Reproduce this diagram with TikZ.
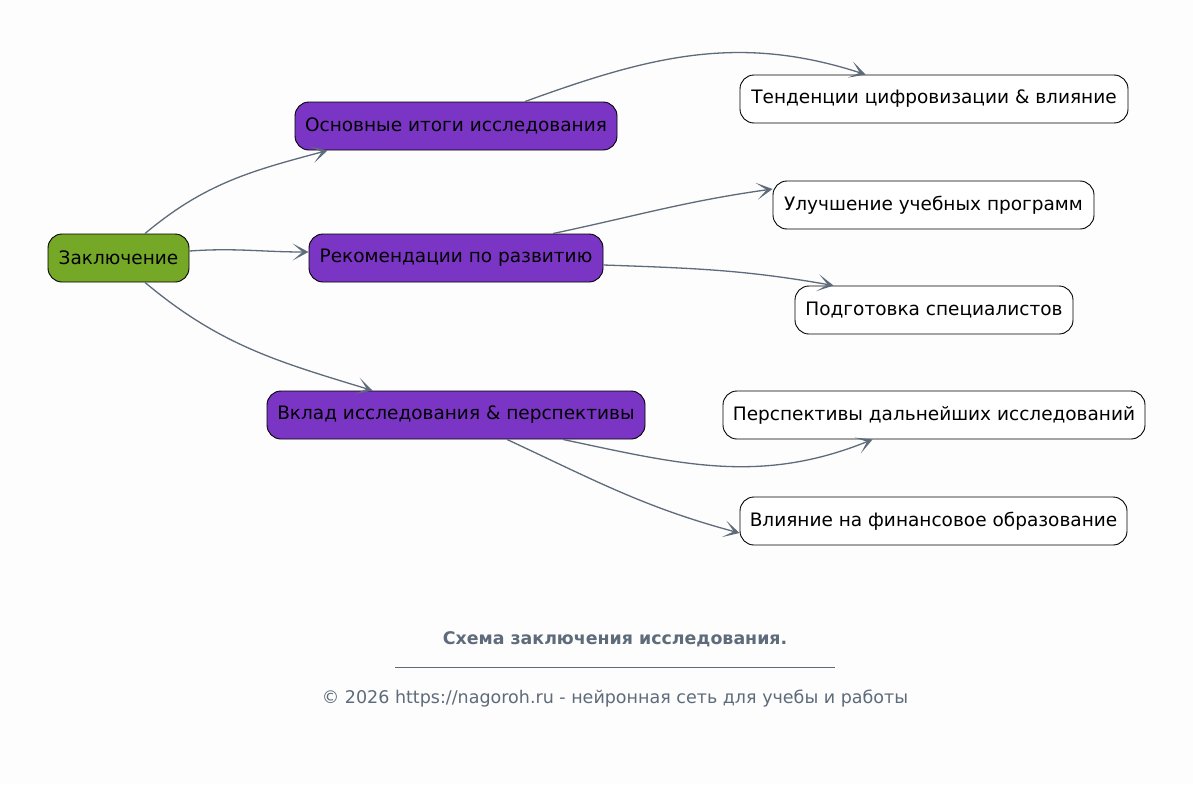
\documentclass[tikz,border=0pt]{standalone}
\usepackage{fontspec}
\setmainfont{DejaVu Sans}
\usetikzlibrary{arrows.meta,calc}
\definecolor{bg}{HTML}{FDFDFD}
\definecolor{edgec}{HTML}{5D6B7A}
\definecolor{rootc}{HTML}{76A828}
\definecolor{midc}{HTML}{7B35C5}
\tikzset{
  box/.style={draw=black, line width=0.9pt, rounded corners=14pt, minimum height=48pt, inner sep=0pt, align=center, font=\fontsize{18.5}{22}\selectfont, text=black},
  rootbox/.style={box, fill=rootc},
  midbox/.style={box, fill=midc},
  leafbox/.style={box, fill=white},
  edge/.style={draw=edgec, line width=1.3pt, -{Stealth[length=16pt,width=17pt,inset=10pt]}},
}
\begin{document}
\begin{tikzpicture}[x=1pt,y=-1pt]
\fill[bg] (0,0) rectangle (1193,784);
\useasboundingbox (0,0) rectangle (1193,784);
\node[rootbox, minimum width=141pt] (z) at (118.5,258) {Заключение};
\node[midbox, minimum width=322pt] (o) at (456,126) {Основные итоги исследования};
\node[midbox, minimum width=294pt] (r) at (456,258) {Рекомендации по развитию};
\node[midbox, minimum width=378pt] (v) at (456,415) {Вклад исследования \& перспективы};
\node[leafbox, minimum width=388pt] (t) at (934,99) {Тенденции цифровизации \& влияние};
\node[leafbox, minimum width=321pt] (u) at (933.5,205) {Улучшение учебных программ};
\node[leafbox, minimum width=278pt] (p) at (934,310) {Подготовка специалистов};
\node[leafbox, minimum width=422pt] (pe) at (934,415) {Перспективы дальнейших исследований};
\node[leafbox, minimum width=387pt] (vl) at (933.5,521) {Влияние на финансовое образование};

\draw[edge] ($(z.north)+(26.5,0)$) to[out=40,in=195] ($(o.south west)+(33,0)$);
\draw[edge] ($(z.east)+(0,-7)$) to[out=4,in=180] ($(r.west)+(0,-6)$);
\draw[edge] ($(z.south)+(26.5,0)$) to[out=-40,in=163] ($(v.north west)+(106,0)$);
\draw[edge] ($(o.north)+(69,0)$) to[out=20,in=162] ($(t.north west)+(126,0)$);
\draw[edge] ($(r.north)+(97,0)$) to[out=12,in=188] ($(u.west)+(0,-16)$);
\draw[edge] ($(r.east)+(0,7)$) to[out=-2,in=170] ($(p.north west)+(39,0)$);
\draw[edge] ($(v.south)+(107,0)$) to[out=-12,in=202] ($(pe.south west)+(150,0)$);
\draw[edge] ($(v.south)+(51,0)$) to[out=-25,in=165] ($(vl.west)+(0,12)$);

\node[font=\bfseries\fontsize{17.4}{20}\selectfont, text=edgec] (cap) at (615,639) {Схема заключения исследования.};
\coordinate (l1) at (395,667);
\coordinate (l2) at (835,667);
\draw[edgec, line width=0.8pt] (l1) -- (l2);
\node[font=\fontsize{17.5}{20}\selectfont, text=edgec] (copy) at (615,699) {© 2026 https://nagoroh.ru - нейронная сеть для учебы и работы};
\end{tikzpicture}
\end{document}
